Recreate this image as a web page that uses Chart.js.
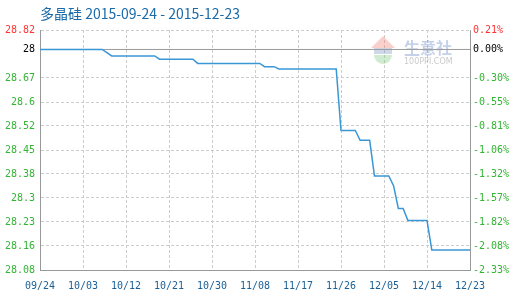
<!DOCTYPE html>
<html>
<head>
<meta charset="utf-8">
<script src="https://cdn.jsdelivr.net/npm/chart.js@4/dist/chart.umd.min.js"></script>
<style>
  html, body { margin: 0; padding: 0; background: #fff; }
  #wrap { width: 520px; height: 300px; position: relative; }
</style>
</head>
<body>
<div id="wrap"><canvas id="chart" width="520" height="300"></canvas></div>
<script>
const titleText = '多晶硅 2015-09-24 - 2015-12-23';
const xLabels = ['09/24', '10/03', '10/12', '10/21', '10/30', '11/08', '11/17', '11/26', '12/05', '12/14', '12/23'];
const baseValue = 28.76;
// one value per day, 09/24 .. 12/23
const prices = [
  28.76, 28.76, 28.76, 28.76, 28.76, 28.76, 28.76, 28.76, 28.76, 28.76, 28.76, 28.76, 28.76, 28.76,
  28.75,
  28.74, 28.74, 28.74, 28.74, 28.74, 28.74, 28.74, 28.74, 28.74, 28.74,
  28.73, 28.73, 28.73, 28.73, 28.73, 28.73, 28.73, 28.73,
  28.717, 28.717, 28.717, 28.717, 28.717, 28.717, 28.717, 28.717, 28.717, 28.717, 28.717, 28.717, 28.717, 28.717,
  28.707, 28.707, 28.707,
  28.70, 28.70, 28.70, 28.70, 28.70, 28.70, 28.70, 28.70, 28.70, 28.70, 28.70, 28.70, 28.70,
  28.51, 28.51, 28.51, 28.51,
  28.48, 28.48, 28.48,
  28.37, 28.37, 28.37, 28.37,
  28.34,
  28.27, 28.27,
  28.233, 28.233, 28.233, 28.233, 28.233,
  28.142, 28.142, 28.142, 28.142, 28.142, 28.142, 28.142, 28.142, 28.142
];
const leftTicks = [28.08, 28.154, 28.228, 28.302, 28.376, 28.45, 28.524, 28.598, 28.672, 28.76, 28.82];
const leftLabels = ['28.08', '28.16', '28.23', '28.3', '28.38', '28.45', '28.52', '28.6', '28.67', '28', '28.82'];
const rightLabels = ['-2.33%', '-2.08%', '-1.82%', '-1.57%', '-1.32%', '-1.06%', '-0.81%', '-0.55%', '-0.30%', '0.00%', '0.21%'];

const GREEN = '#33b533';
const monoFont = { family: 'DejaVu Sans Mono', size: 10 };

function tickColor(ctx) {
  if (ctx.index === 9) return '#000';
  if (ctx.index === 10) return '#ff3333';
  return GREEN;
}

const decor = {
  id: 'decor',
  beforeDatasetsDraw(chart) {
    const c = chart.ctx;
    c.save();
    // watermark
    c.fillStyle = 'rgba(240,120,110,0.35)';
    c.beginPath(); c.moveTo(371, 48); c.lineTo(383, 36); c.lineTo(395, 48); c.closePath(); c.fill();
    c.fillStyle = 'rgba(120,140,190,0.35)';
    c.fillRect(374, 48, 18, 6);
    c.fillStyle = 'rgba(120,200,120,0.35)';
    c.beginPath(); c.arc(383, 55, 9, 0, Math.PI); c.fill();
    c.font = 'bold 16px "Noto Sans CJK SC"';
    c.fillStyle = 'rgba(110,140,200,0.4)';
    c.textBaseline = 'alphabetic';
    c.fillText('生意社', 404, 54);
    c.font = '8px "DejaVu Sans"';
    c.fillStyle = 'rgba(150,150,150,0.5)';
    c.fillText('100PPI.COM', 404, 64);
    c.restore();
  },
  afterDraw(chart) {
    const c = chart.ctx;
    c.save();
    c.font = '14px "Noto Sans CJK SC"';
    c.fillStyle = '#1a6aa8';
    c.textBaseline = 'alphabetic';
    c.fillText(titleText, 40, 19);
    c.restore();
  }
};

new Chart(document.getElementById('chart'), {
  type: 'line',
  data: {
    datasets: [
      {
        data: prices.map((v, i) => ({ x: i, y: v })),
        borderColor: '#3a97d6',
        borderWidth: 1.5,
        pointRadius: 0,
        tension: 0,
        yAxisID: 'y',
        order: 1
      },
      {
        data: [{ x: 0, y: baseValue }, { x: prices.length - 1, y: baseValue }],
        borderColor: '#999',
        borderWidth: 1,
        pointRadius: 0,
        yAxisID: 'y',
        order: 2
      }
    ]
  },
  options: {
    responsive: false,
    animation: false,
    events: [],
    layout: { padding: { top: 30, left: 0, right: 0, bottom: 0 } },
    plugins: { legend: { display: false }, tooltip: { enabled: false }, title: { display: false } },
    scales: {
      x: {
        type: 'linear',
        min: 0,
        max: 90,
        afterBuildTicks: s => { s.ticks = xLabels.map((_, i) => ({ value: i * 9 })); },
        afterFit: s => { s.height = 30; },
        ticks: {
          callback: (v, i) => xLabels[i],
          color: '#1a5f96',
          font: monoFont,
          padding: 10,
          maxRotation: 0,
          autoSkip: false
        },
        grid: { color: '#cccccc', drawTicks: false },
        border: { color: '#999', dash: [3, 2] }
      },
      y: {
        position: 'left',
        min: 28.08,
        max: 28.82,
        afterBuildTicks: s => { s.ticks = leftTicks.map(v => ({ value: v })); },
        afterFit: s => { s.width = 40; },
        ticks: {
          callback: (v, i) => leftLabels[i],
          color: tickColor,
          font: monoFont,
          padding: 5,
          autoSkip: false
        },
        grid: {
          color: ctx => ctx.index === 9 ? 'rgba(0,0,0,0)' : '#cccccc',
          drawTicks: false
        },
        border: { color: '#999', dash: [3, 2] }
      },
      y1: {
        position: 'right',
        min: 28.08,
        max: 28.82,
        afterBuildTicks: s => { s.ticks = leftTicks.map(v => ({ value: v })); },
        afterFit: s => { s.width = 50; },
        ticks: {
          callback: (v, i) => rightLabels[i],
          color: tickColor,
          font: monoFont,
          padding: 3,
          autoSkip: false
        },
        grid: { display: false, drawTicks: false },
        border: { color: '#999' }
      }
    }
  },
  plugins: [decor]
});
</script>
</body>
</html>
